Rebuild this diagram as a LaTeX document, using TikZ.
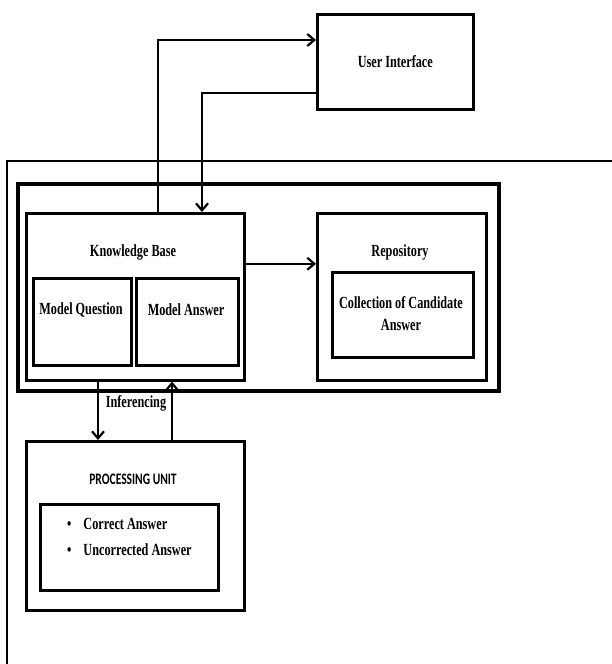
\documentclass[tikz,border=0pt]{standalone}
\usepackage{fontspec}
\setmainfont{Liberation Serif}[FakeStretch=0.72]
\newfontfamily\pufont{Carlito}[FakeStretch=0.72]
\usetikzlibrary{calc,arrows.meta}

\begin{document}
\begin{tikzpicture}[x=1pt,y=-1pt,
    box/.style={draw,line width=2.6pt,anchor=north west,inner sep=0pt},
    arr/.style={line width=2.2pt,-{Straight Barb[length=7pt,width=12pt,line width=2.2pt]}},
    lbl/.style={font=\fontsize{17}{22}\selectfont\bfseries,align=center,inner sep=1pt}]

    \useasboundingbox (0,0) rectangle (611,664);

    % frame round the system
    \draw[line width=2pt] (7,670) -- (7,161) -- (615,161);
    \node (sys) [box,line width=3.6pt,minimum width=481pt,minimum height=207pt] at (16,182) {};

    \node (ui) [box,minimum width=156pt,minimum height=95pt] at (316,13) {};
    \node [lbl] at (ui.center) {User Interface};

    \node (kb) [box,minimum width=218pt,minimum height=167pt] at (25,212) {};
    \node [lbl] at (133,252) {Knowledge Base};
    \node (mq) [box,minimum width=98pt,minimum height=87pt] at (32,277) {};
    \node [lbl] at (81,310) {Model Question};
    \node (ma) [box,minimum width=102pt,minimum height=87pt] at (135,277) {};
    \node [lbl] at (186,310) {Model Answer};

    \node (repo) [box,minimum width=169pt,minimum height=167pt] at (316,212) {};
    \node [lbl] at (400,252) {Repository};
    \node (cand) [box,minimum width=141pt,minimum height=85pt] at (331,271) {};
    \node [lbl] at (401,314) {Collection of Candidate\\Answer};

    \node (pu) [box,minimum width=218pt,minimum height=169pt] at (25,440) {};
    \node [lbl,font=\fontsize{16}{20}\selectfont\pufont\bfseries] at (133,479) {PROCESSING UNIT};
    \node (res) [box,minimum width=178pt,minimum height=86pt] at (39,503) {};
    \node [lbl,align=left,anchor=west,font=\fontsize{17}{26}\selectfont\bfseries] at (66,537)
      {\textbullet\hspace{12pt}Correct Answer\\\textbullet\hspace{12pt}Uncorrected Answer};

    % connectors
    \draw[arr] ([xshift=133pt]kb.north west) |- ([yshift=-27pt]ui.north west);
    \draw[arr] ([yshift=18pt]ui.south west) -| ([xshift=177pt]kb.north west);
    \draw[arr] ([yshift=33pt]kb.east) -- ([yshift=33pt]repo.west);
    \draw[arr] ([xshift=73pt]kb.south west) -- ([xshift=73pt]pu.north west);
    \draw[arr] ([xshift=147pt]pu.north west) -- ([xshift=147pt]kb.south west);
    \node (inf) [lbl] at (136,403) {Inferencing};
  \end{tikzpicture}
\end{document}
